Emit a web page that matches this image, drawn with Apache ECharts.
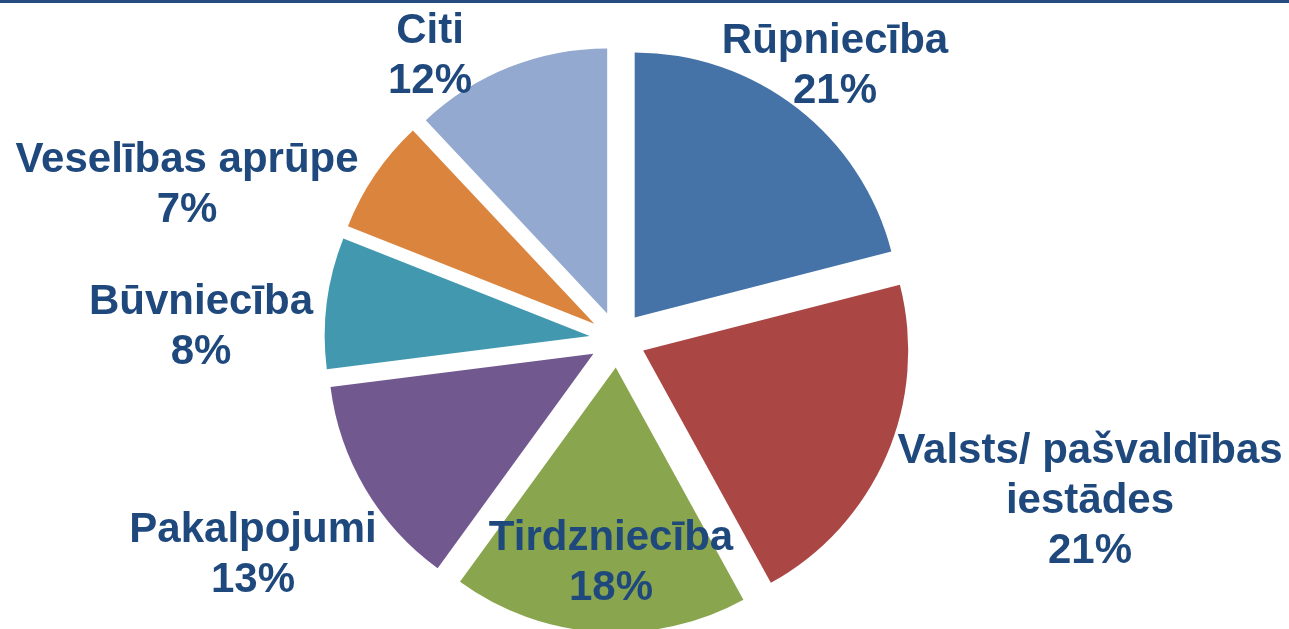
<!DOCTYPE html>
<html><head><meta charset="utf-8">
<script src="https://cdn.jsdelivr.net/npm/echarts@6/dist/echarts.min.js"></script>
<style>html,body{margin:0;padding:0;background:#fff}#c{width:1289px;height:629px}</style>
</head><body><div id="c"></div>
<script>
const categories = ['Rūpniecība', 'Valsts/ pašvaldības\niestādes', 'Tirdzniecība', 'Pakalpojumi', 'Būvniecība', 'Veselības aprūpe', 'Citi'];
const shares = [21, 21, 18, 13, 8, 7, 12];
const colors = ['#4572A7', '#AA4643', '#89A54E', '#71588F', '#4198AF', '#DB843D', '#93A9CF'];
const labelPos = [[835, 66], [1090, 501], [611, 563], [253, 555], [201, 327], [187, 185], [430, 56]];

const CX = 617.5, CY = 339.5, R = 265, OFF = 28;

const labelGraphics = categories.map((n, i) => ({
  type: 'text',
  x: labelPos[i][0],
  y: labelPos[i][1],
  z: 100,
  silent: true,
  style: {
    text: n + '\n' + shares[i] + '%',
    fill: '#1F497D',
    font: 'bold 42px "Liberation Sans", Arial, sans-serif',
    lineHeight: 50,
    align: 'center',
    verticalAlign: 'middle',
    textAlign: 'center',
    textVerticalAlign: 'middle'
  }
}));

const chart = echarts.init(document.getElementById('c'), null, {renderer: 'canvas'});
chart.setOption({
  animation: false,
  graphic: [{type: 'rect', shape: {x: 0, y: 0, width: 1289, height: 3}, style: {fill: '#244C7E'}}].concat(labelGraphics),
  series: [{
    type: 'pie',
    center: [CX, CY],
    radius: [0, R],
    startAngle: 90,
    clockwise: true,
    selectedMode: 'multiple',
    selectedOffset: OFF,
    data: categories.map((n, i) => ({
      name: n, value: shares[i], selected: true,
      itemStyle: {color: colors[i]}
    })),
    label: {show: false},
    labelLine: {show: false},
    emphasis: {disabled: true}
  }]
});
</script></body></html>
